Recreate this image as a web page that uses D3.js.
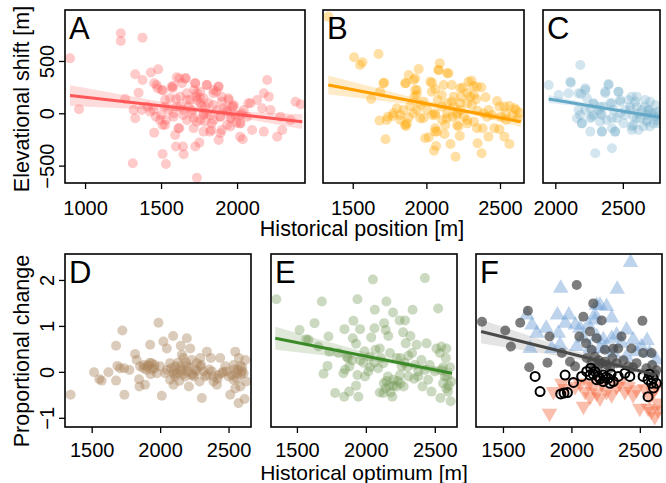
<!DOCTYPE html>
<html>
<head>
<meta charset="utf-8">
<script src="https://cdn.jsdelivr.net/npm/d3@7"></script>
<style>
  body { margin: 0; background: #fff; }
  svg text { font-family: "Liberation Sans", Arial, sans-serif; fill: #000; }
</style>
</head>
<body>
<div id="chart"></div>
<script>
// ---- data ----
// top row: historical position [m] vs elevational shift [m]
var ptsA = [[901,525],[960,38],[1235,764],[1235,691],[1378,723],[1330,373],[1378,318],[1352,197],[1264,137],[1319,32],
  [1330,-48],[1314,-478],[1433,389],[1481,420],[1455,287],[1477,239],[1512,217],[1429,16],[1466,-32],[1455,-185],
  [1510,-111],[1532,-64],[1527,127],[1510,-389],[1532,-484],[1576,239],[1578,261],[1620,334],[1637,287],[1664,334],
  [1598,137],[1583,0],[1620,-143],[1593,-207],[1598,-318],[1644,-318],[1649,-392],[1736,-615],[1725,-318],[1752,-280],
  [1725,287],[1718,223],[1730,159],[1802,271],[1846,223],[1879,255],[1864,207],[1780,143],[1670,127],[1681,64],
  [1769,64],[1824,-16],[1791,-80],[1714,-143],[1780,-175],[1830,-159],[1879,-255],[1890,-191],[1934,-111],[1956,-48],
  [1989,-16],[1978,80],[1945,127],[1901,111],[1912,48],[2022,-96],[2066,-32],[2088,96],[2132,127],[2176,191],
  [2198,318],[2209,159],[2165,48],[2220,32],[2286,-32],[2352,-64],[2099,-159],[2176,-175],[2264,-223],[2297,-159],
  [2037,-248],[2385,111],[2418,86],[1758,-64],[1802,0],[1703,0],[1670,-64],[1626,64],[1648,32],[1758,96],
  [1868,32],[1934,16],[1967,64],[1890,-32],[2044,32],[2022,-16],[1736,127],[1703,32],[1780,0],[1846,-64],
  [1813,96],[1604,64],[1549,32],[1582,-32],[1500,-16],[1411,64],[1374,32],[1956,-127],[1996,-89],[1670,191],[1758,207],
  [1471,271],[1505,223],[1570,254],[1603,344],[1658,334],[1724,287],[1801,271],[1877,254],[1844,191],[1899,159],
  [1943,143],[2074,96],[1735,191],[1757,143],[1691,127],[1625,159],[1559,143],[1526,63],[1449,32],[1493,-64],
  [1526,-112],[1614,-143],[1647,-16],[1713,-48],[1778,-16],[1735,-80],[1833,-96],[1888,-32],[1932,32],[1965,-48],
  [2020,-96],[1899,-159],[1822,-175],[2020,-223],[1790,63],[1844,80],[1976,63],[2031,0]];
var ptsB = [[1334,924],[1509,535],[1550,462],[1566,487],[1675,567],[1713,293],[1686,207],[1625,137],[1682,-70],[1739,-32],
  [1773,-25],[1723,-248],[1823,-16],[1880,366],[1948,424],[1914,318],[1936,223],[1918,159],[1861,287],[1891,70],
  [1880,-41],[1861,-121],[1959,-48],[2016,-229],[2039,293],[2061,229],[2091,478],[2084,414],[2141,382],[2118,271],
  [2077,127],[2057,0],[2107,-64],[2073,-175],[2123,-197],[2066,-312],[2052,-357],[2164,-293],[2198,-414],[2209,-111],
  [2227,-216],[2248,245],[2236,159],[2307,312],[2318,261],[2323,175],[2339,134],[2373,248],[2402,153],[2348,25],
  [2382,-143],[2375,-382],[2348,-287],[2421,-223],[2462,-143],[2480,118],[2496,64],[2530,64],[2564,70],[2598,48],
  [2632,6],[2621,-48],[2541,-64],[2507,-32],[2530,-223],[2564,-293],[2496,-153],[2141,96],[2186,64],[2209,0],
  [2232,32],[2277,96],[2255,-32],[2175,-32],[2141,0],[2005,32],[1982,111],[1959,80],[1800,48],[1823,-64],
  [1868,-96],[2277,-96],[2323,-80],[2412,-32],[2423,32],[2446,-16],[2541,0],[2587,-16],[2609,32],[2389,0],
  [2277,191],[2186,159],[2107,64],[2039,-16],[1936,32],
  [1708,287],[1856,287],[1924,334],[2026,302],[2082,414],[2150,382],[2173,271],[2230,239],[2286,302],[2344,254],
  [1924,223],[1935,175],[2037,207],[2105,175],[2173,111],[2230,96],[2298,159],[2310,80],[1776,0],[1844,32],
  [1912,0],[1980,-48],[2060,-16],[2139,-48],[2207,-16],[2276,-64],[2128,-112],[2060,-143],[2218,-127],[1992,-239],
  [2060,-175],[2344,-143],[1856,-112],[1731,-64]];
var ptsC = [[1951,271],[2025,175],[2116,293],[2185,462],[2222,239],[2190,185],[2234,143],[2172,32],[2197,-96],[2160,-48],
  [2259,48],[2296,-382],[2284,89],[2321,32],[2345,-175],[2370,191],[2394,280],[2468,207],[2419,-334],[2443,-175],
  [2382,-64],[2419,96],[2480,127],[2517,32],[2542,127],[2566,159],[2591,111],[2603,64],[2640,32],[2665,64],
  [2690,32],[2714,0],[2739,-32],[2751,-64],[2763,16],[2727,-96],[2677,-80],[2628,-48],[2566,-159],[2579,-111],
  [2653,-127],[2505,-96],[2456,-48],[2333,0],[2284,-16],[2480,0],[2702,111],[2739,80],[2554,32],[2616,0],
  [2431,32],[2357,64],[2259,-48],[2763,-96],[2579,-32],[2677,-16],
  [2111,302],[2098,191],[2172,191],[2222,223],[2394,271],[2369,207],[2467,207],[2603,159],[2665,127],[2283,96],
  [2332,63],[2406,96],[2480,111],[2554,63],[2689,32],[2739,0],[2222,32],[2185,-16],[2271,-32],[2345,-16],
  [2419,-48],[2517,-16],[2603,-48],[2677,-64],[2197,-96],[2332,-80],[2566,-127],[2702,-127],[2259,-175],[2345,-175],
  [2419,-143],[2443,-175],[2615,-159]];

// bottom row: historical optimum [m] vs proportional change
var ptsD = [[1346,-0.50],[1517,-0.01],[1556,-0.16],[1573,-0.19],[1622,-0.01],[1678,0.57],[1724,0.90],[1688,0.13],[1707,0.08],[1737,0.08],
  [1678,-0.19],[1739,-0.50],[1776,0.04],[1817,0.39],[1829,0.26],[1854,0.12],[1846,-0.16],[1849,-0.32],[1890,-0.28],[1915,0.15],
  [1927,0.59],[1939,0.19],[1956,0.08],[1988,1.07],[2024,0.66],[2012,-0.52],[2049,0.51],[2095,0.78],[2073,0.19],[2037,-0.03],
  [2073,-0.17],[2098,-0.28],[2122,-0.03],[2151,0.57],[2171,0.30],[2195,0.73],[2220,0.51],[2232,0.26],[2200,0.01],[2246,-0.10],
  [2210,-0.32],[2293,0.30],[2305,-0.57],[2288,-0.21],[2342,0.44],[2371,0.30],[2390,-0.10],[2415,-0.28],[2439,0.30],[2451,-0.03],
  [2476,0.12],[2512,-0.50],[2537,0.15],[2549,0.44],[2566,0.04],[2573,-0.68],[2586,-0.32],[2617,-0.59],[2622,0.26],[2629,-0.21],
  [2610,-0.03],[2537,-0.17],[2549,-0.36],[2586,0.13],[1878,0.08],[1902,0.04],[1976,-0.03],[2000,0.12],[2049,0.04],[2098,0.01],
  [2146,0.12],[2159,0.01],[2183,-0.10],[2232,-0.07],[2268,0.01],[2317,0.01],[2342,-0.07],[2378,0.01],[2427,-0.07],[2488,0.01],
  [2524,-0.07],[2561,-0.03],[2598,0.01],[2268,0.19],[2159,0.37],[2390,-0.21],[2293,0.12],[2195,0.12],[2110,-0.10],
  [1880,0.15],[1905,0.12],[1925,0.20],[1940,0.05],[1930,-0.05],[1960,0.15],[2080,0.08],[2110,0.12],[2130,0.20],[2150,0.05],
  [2170,-0.05],[2190,0.20],[2210,0.10],[2240,-0.05],[2260,0.05],[2300,0.15],[2330,-0.10],[2360,0.05],[2420,-0.15],[2460,0.00],
  [2500,-0.10],[2540,0.05],[2560,-0.15],[2590,-0.05],[2600,0.10],[2575,0.30],[2140,-0.20],[2100,-0.05]];
var ptsE = [[1351,1.58],[1519,0.91],[1568,0.71],[1628,1.06],[1681,1.53],[1729,0.77],[1736,0.44],[1722,0.13],[1693,-0.04],[1777,-0.46],
  [1845,0.93],[1861,0.33],[1837,-0.03],[1879,-0.43],[1843,-0.54],[1939,1.58],[1910,1.11],[1958,0.93],[1929,0.61],[1905,0.73],
  [1881,0.12],[1939,-0.07],[1929,-0.30],[1946,-0.54],[1982,0.20],[2018,0.01],[2051,2.01],[2039,0.75],[2063,0.95],[2065,1.35],
  [2070,0.48],[2089,0.08],[2101,-0.45],[2130,-0.25],[2149,1.53],[2132,1.06],[2144,0.91],[2163,0.78],[2197,1.29],[2245,1.12],
  [2284,1.12],[2270,0.86],[2289,0.62],[2323,0.78],[2339,1.35],[2308,0.35],[2335,0.41],[2368,0.59],[2403,0.26],[2428,2.04],
  [2440,0.62],[2428,0.04],[2452,-0.17],[2411,-0.32],[2524,1.38],[2512,0.51],[2537,0.41],[2548,0.55],[2584,0.51],[2548,0.04],
  [2572,-0.10],[2560,-0.25],[2584,-0.36],[2596,-0.43],[2620,-0.21],[2615,-0.64],[2541,-0.57],[2476,-0.43],[2223,0.30],[2259,0.12],
  [2199,-0.17],[2223,-0.32],[2127,-0.46],[2144,-0.36],[2192,-0.54],[2274,-0.32],[2310,-0.10],[2247,-0.07],[2127,0.19],[2175,0.41],
  [2101,0.51],[2027,0.33],[1994,-0.10],[2380,0.01],[2355,0.15],[2464,0.15],[2500,0.01],[1801,0.41],[1656,0.55],[1584,0.70],
  [2150,-0.20],[2170,-0.30],[2180,-0.45],[2200,-0.30],[2230,-0.20],[2250,-0.25],[2160,-0.10],[2590,-0.10],[2600,-0.30],[2610,0.10],
  [2560,0.10],[2580,0.30],[2030,0.10],[2060,0.20],[2110,0.30],[2250,0.30],[2280,0.20],[2300,0.10],[2350,-0.15],[2380,-0.10],
  [1870,0.30],[1900,0.25],[1960,0.25],[1990,0.45],[1850,0.05]];
var ptsFgrey = [[1347,1.09],[1517,0.90],[1558,0.55],[1626,1.07],[1682,1.33],[1692,0.10],[1840,0.77],[1825,0.20],[2039,1.89],[1930,0.41],
  [1990,0.22],[2027,0.12],[2058,0.77],[2087,1.20],[2107,0.62],[2160,1.49],[2148,0.48],[2172,0.33],[2112,0.30],[2136,0.88],
  [2184,0.73],[2221,1.12],[2245,0.48],[2306,0.51],[2342,0.51],[2366,0.77],[2415,0.12],[2439,0.51],[2519,1.11],[2524,0.41],
  [2548,0.08],[2585,0.41],[2621,0.04],[2221,0.19],[2245,0.22],[2196,0.12],[2282,0.08],[2330,0.19],[2476,0.19],[2148,0.19],
  [2160,0.05],[2200,0.25],[2260,0.15],[2300,0.30],[2380,0.25],[2450,0.10],[2590,0.15],[2610,-0.05]];
var ptsFup = [[2432,2.38],[1922,1.82],[2335,1.80],[1675,1.24],[1712,1.02],[1748,0.84],[1699,0.51],[1816,0.95],[1898,1.24],[1956,1.06],
  [1981,1.24],[2029,1.02],[1905,0.84],[1917,0.59],[1857,0.51],[2184,1.45],[2209,1.45],[2257,1.42],[2172,1.13],[2172,1.24],
  [2294,1.17],[2124,1.02],[2063,0.95],[2087,0.73],[2184,0.77],[2233,0.70],[2294,0.73],[2403,0.91],[2366,0.62],[2330,0.80],
  [2245,0.51],[2209,0.51],[2136,0.51],[2039,0.55],[2451,0.70],[2553,0.68],[2572,0.41],[2512,0.55],[2403,0.33],[2306,0.41],
  [2476,0.44],[2621,0.26]];
var ptsFdown = [[1840,-0.90],[1869,-0.43],[1930,-0.25],[1954,-0.36],[2027,-0.32],[2100,-0.43],[2088,-0.75],[2136,-0.54],[2160,-0.32],[2184,-0.46],
  [2209,-0.57],[2257,-0.43],[2294,-0.50],[2330,-0.32],[2391,-0.43],[2415,-0.32],[2476,-0.39],[2500,-0.79],[2561,-0.79],[2585,-0.86],
  [2609,-0.97],[2633,-0.83],[2572,-0.54],[2536,-0.36],[2597,-0.43],[2451,-0.50],[2063,-0.25],[2124,-0.25],[2221,-0.25],[2354,-0.25],
  [2633,-0.68],[2621,-0.32]];
var ptsFopen = [[1735,-0.10],[1771,-0.43],[1922,-0.48],[1946,-0.46],[1971,-0.45],[1954,-0.07],[2015,-0.23],[2075,-0.10],[2112,0.01],[2141,0.08],
  [2172,0.01],[2196,-0.10],[2233,-0.07],[2269,-0.14],[2306,-0.21],[2233,-0.21],[2184,-0.17],[2342,-0.10],[2427,-0.10],[2391,-0.03],
  [2524,-0.10],[2560,-0.17],[2585,-0.25],[2597,-0.14],[2560,-0.54],[2621,-0.25],[2282,-0.25],[2136,-0.07],
  [2160,-0.05],[2210,-0.15],[2250,-0.12],[2290,-0.05],[2600,-0.35],[2570,-0.05]];

// fitted lines [x0, y0, x1, y1] and confidence band half-widths [left, narrowest, right]
var fitA = [901, 169, 2429, -80],   bandA = [100, 22, 70];
var fitB = [1334, 271, 2641, -80],  bandB = [90, 20, 50];
var fitC = [1951, 137, 2771, -38],  bandC = [38, 12, 30];
var fitE = [1343, 0.73, 2625, -0.03], bandE = [0.25, 0.05, 0.11];
var fitF = [1340, 0.88, 2621, -0.07], bandF = [0.26, 0.05, 0.1];

var ticksTopY = [-500, 0, 500];
var ticksBotY = [-1, 0, 1, 2];
var ticksAX = [1000, 1500, 2000];
var ticksBX = [1500, 2000, 2500];
var ticksCX = [2000, 2500];
var ticksBotX = [1500, 2000, 2500];

var W = 666, H = 483;
var svg = d3.select("#chart").append("svg").attr("width", W).attr("height", H);

var topRow = {y0: 10, y1: 183, dom: [-666, 987], lab: 32};
var botRow = {y0: 254, y1: 427, dom: [-1.2, 2.565], lab: 30};

function fmt(v) { return v < 0 ? "\u2212" + Math.abs(v) : String(v); }

var clipN = 0;
function panel(o) {
  var row = o.row;
  var x = d3.scaleLinear().domain(o.xdom).range([o.x0, o.x1]);
  var y = d3.scaleLinear().domain(row.dom).range([row.y1, row.y0]);
  var id = "clip" + (clipN++);
  svg.append("clipPath").attr("id", id).append("rect")
    .attr("x", o.x0).attr("y", row.y0).attr("width", o.x1 - o.x0).attr("height", row.y1 - row.y0);
  var g = svg.append("g").attr("clip-path", "url(#" + id + ")");

  if (o.fit) {
    var f = o.fit, b = o.band;
    var slope = (f[3] - f[1]) / (f[2] - f[0]);
    var m = b[1];
    var r = Math.sqrt((b[0]*b[0] - m*m) / (b[2]*b[2] - m*m));
    var xc = (f[0] + r * f[2]) / (1 + r);
    var k = (b[0]*b[0] - m*m) / ((xc - f[0]) * (xc - f[0]));
    var xs = d3.range(0, 41).map(function(i) { return f[0] + (f[2] - f[0]) * i / 40; });
    var hw = function(v) { return Math.sqrt(m*m + k*(v - xc)*(v - xc)); };
    var yl = function(v) { return f[1] + slope * (v - f[0]); };
    g.append("path").datum(xs)
      .attr("d", d3.area().x(function(v) { return x(v); })
        .y0(function(v) { return y(yl(v) - hw(v)); })
        .y1(function(v) { return y(yl(v) + hw(v)); }))
      .attr("fill", o.bandColor);
  }

  (o.layers || []).forEach(function(L) {
    if (L.shape === "circle") {
      g.selectAll(null).data(L.pts).enter().append("circle")
        .attr("cx", function(d) { return x(d[0]); })
        .attr("cy", function(d) { return y(d[1]); })
        .attr("r", L.r || 5)
        .attr("fill", L.fill || "none")
        .attr("stroke", L.stroke || "none")
        .attr("stroke-width", L.sw || 0);
    } else {
      var sym = d3.symbol().type(d3.symbolTriangle).size(L.size || 95);
      g.selectAll(null).data(L.pts).enter().append("path")
        .attr("d", sym)
        .attr("transform", function(d) {
          return "translate(" + x(d[0]) + "," + y(d[1]) + ")" + (L.shape === "down" ? " rotate(180)" : "");
        })
        .attr("fill", L.fill);
    }
  });

  if (o.fit) {
    g.append("line")
      .attr("x1", x(o.fit[0])).attr("y1", y(o.fit[1]))
      .attr("x2", x(o.fit[2])).attr("y2", y(o.fit[3]))
      .attr("stroke", o.lineColor).attr("stroke-width", 3);
  }

  // box
  svg.append("rect").attr("x", o.x0).attr("y", row.y0)
    .attr("width", o.x1 - o.x0).attr("height", row.y1 - row.y0)
    .attr("fill", "none").attr("stroke", "#000").attr("stroke-width", 1.6);

  // x axis
  var xa = svg.append("g").attr("transform", "translate(0," + row.y1 + ")")
    .call(d3.axisBottom(x).tickValues(o.xticks).tickSize(6).tickFormat(fmt));
  xa.select(".domain").remove();
  xa.selectAll("line").attr("stroke", "#000").attr("stroke-width", 1.3);
  xa.selectAll("text").attr("font-size", 20).attr("dy", null).attr("y", row.lab)
    .style("font-family", "Liberation Sans, Arial, sans-serif");

  if (o.yticks) {
    var ya = svg.append("g").attr("transform", "translate(" + o.x0 + ",0)")
      .call(d3.axisLeft(y).tickValues(o.yticks).tickSize(6).tickFormat(fmt));
    ya.select(".domain").remove();
    ya.selectAll("line").attr("stroke", "#000").attr("stroke-width", 1.3);
    ya.selectAll("text").attr("font-size", 20).attr("x", null).attr("dy", null)
      .attr("text-anchor", "middle")
      .attr("transform", "translate(-11,0) rotate(-90)")
      .style("font-family", "Liberation Sans, Arial, sans-serif");
  }

  svg.append("text").attr("x", o.x0 + 4).attr("y", row.y0 + 29)
    .attr("font-size", 31).text(o.label);
}

var cA = "rgba(255,95,95,0.33)", cB = "rgba(255,165,0,0.36)", cC = "rgba(110,170,200,0.3)";
panel({row: topRow, x0: 65, x1: 305, xdom: [868, 2447], xticks: ticksAX, yticks: ticksTopY, label: "A",
  layers: [{shape: "circle", pts: ptsA, fill: cA}], fit: fitA, band: bandA,
  bandColor: "rgba(255,95,95,0.22)", lineColor: "#ff5757"});
panel({row: topRow, x0: 323, x1: 524, xdom: [1298, 2663], xticks: ticksBX, label: "B",
  layers: [{shape: "circle", pts: ptsB, fill: cB}], fit: fitB, band: bandB,
  bandColor: "rgba(255,165,0,0.22)", lineColor: "#ffa000"});
panel({row: topRow, x0: 543, x1: 660, xdom: [1909, 2775], xticks: ticksCX, label: "C",
  layers: [{shape: "circle", pts: ptsC, fill: cC}], fit: fitC, band: bandC,
  bandColor: "rgba(110,170,200,0.22)", lineColor: "#64a8c8"});
panel({row: botRow, x0: 65, x1: 251, xdom: [1305, 2664], xticks: ticksBotX, yticks: ticksBotY, label: "D",
  layers: [{shape: "circle", pts: ptsD, fill: "rgba(170,130,90,0.42)"}]});
panel({row: botRow, x0: 271, x1: 457, xdom: [1312, 2661], xticks: ticksBotX, label: "E",
  layers: [{shape: "circle", pts: ptsE, fill: "rgba(110,150,80,0.36)"}], fit: fitE, band: bandE,
  bandColor: "rgba(110,150,80,0.22)", lineColor: "#3a8a28"});
panel({row: botRow, x0: 476, x1: 662, xdom: [1303, 2662], xticks: ticksBotX, label: "F",
  layers: [
    {shape: "up", pts: ptsFup, fill: "rgba(110,160,215,0.45)", size: 105},
    {shape: "down", pts: ptsFdown, fill: "rgba(245,110,70,0.45)", size: 105},
    {shape: "circle", pts: ptsFgrey, fill: "rgba(70,70,70,0.7)"},
    {shape: "circle", pts: ptsFopen, fill: "none", stroke: "#000", sw: 2, r: 4.5}
  ], fit: fitF, band: bandF, bandColor: "rgba(120,120,120,0.2)", lineColor: "#4a4a4a"});

// axis titles
svg.append("text").attr("transform", "translate(29,99) rotate(-90)")
  .attr("text-anchor", "middle").attr("font-size", 21.5).text("Elevational shift [m]");
svg.append("text").attr("transform", "translate(29,351) rotate(-90)")
  .attr("text-anchor", "middle").attr("font-size", 21.5).text("Proportional change");
svg.append("text").attr("x", 362).attr("y", 236)
  .attr("text-anchor", "middle").attr("font-size", 21.5).text("Historical position [m]");
svg.append("text").attr("x", 364).attr("y", 479.5)
  .attr("text-anchor", "middle").attr("font-size", 21).text("Historical optimum [m]");
</script>
</body>
</html>
